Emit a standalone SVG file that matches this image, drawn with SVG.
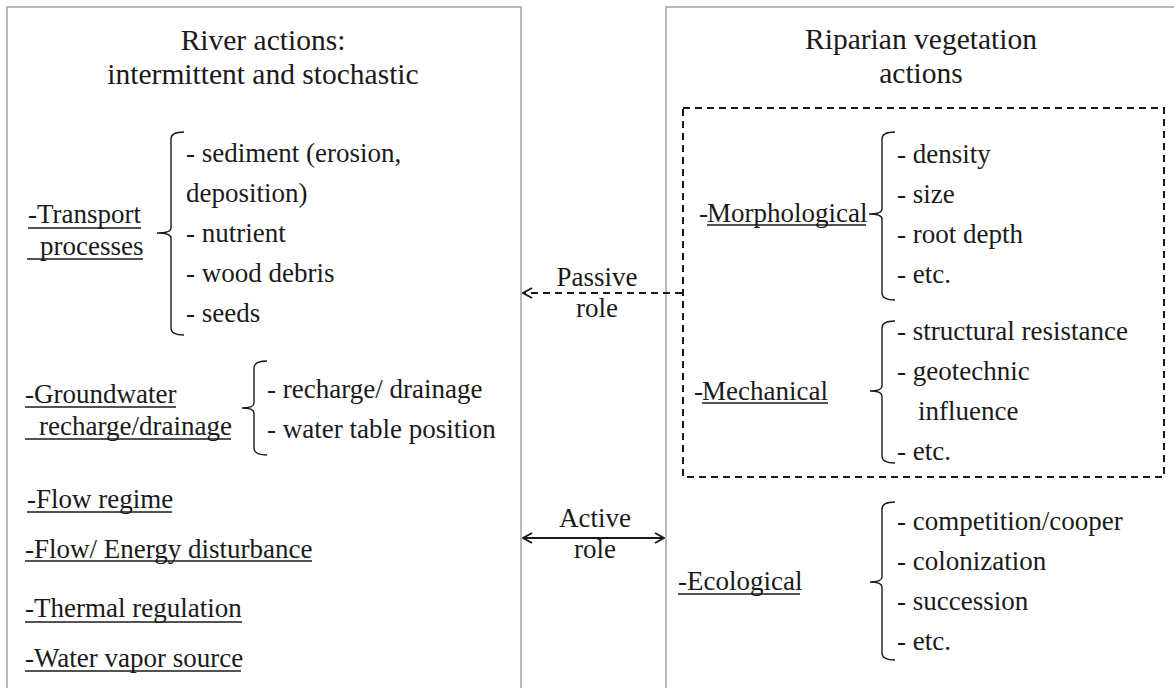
<svg xmlns="http://www.w3.org/2000/svg" width="1174" height="688" viewBox="0 0 1174 688">
<style>
  text { font-family: "Liberation Serif", "Times New Roman", serif; fill: #1a1a1a; }
  .title { font-size: 29.5px; text-anchor: middle; }
  .t { font-size: 27px; }
  .lbl { font-size: 27px; text-anchor: middle; }
  .box { fill: none; stroke: #a3a3a3; stroke-width: 1.5; }
  .dbox { fill: none; stroke: #1a1a1a; stroke-width: 2; stroke-dasharray: 7 5; }
  .ul { stroke: #1a1a1a; stroke-width: 1.5; }
  .brace { fill: none; stroke: #1a1a1a; stroke-width: 1.4; }
  .arr { fill: none; stroke: #1a1a1a; stroke-width: 2; }
  .dash { stroke-dasharray: 7 5; }
</style>
<defs>
  <marker id="chev" viewBox="0 0 12 12" refX="11" refY="6" markerWidth="12" markerHeight="12" markerUnits="userSpaceOnUse" orient="auto-start-reverse">
    <path d="M2,1 L11,6 L2,11" fill="none" stroke="#1a1a1a" stroke-width="2" stroke-dasharray="none"/>
  </marker>
</defs>

<g id="river-actions">
  <rect class="box" x="7" y="7" width="514" height="700"/>
  <text class="title" x="263" y="50">River actions:</text>
  <text class="title" x="263" y="84">intermittent and stochastic</text>

  <g id="transport">
    <text class="t" x="28" y="223">-Transport</text>
    <line class="ul" x1="28" y1="228" x2="141" y2="228"/>
    <text class="t" x="40" y="255">processes</text>
    <line class="ul" x1="27" y1="259" x2="143" y2="259"/>
    <path class="brace" d="M184,132 Q171,132 171,139 L171,228 Q171,233 157,233 Q171,233 171,238 L171,328 Q171,335 184,335"/>
    <text class="t" x="186" y="162">- sediment (erosion,</text>
    <text class="t" x="186" y="202">deposition)</text>
    <text class="t" x="186" y="242">- nutrient</text>
    <text class="t" x="186" y="282">- wood debris</text>
    <text class="t" x="186" y="322">- seeds</text>
  </g>

  <g id="groundwater">
    <text class="t" x="25" y="403">-Groundwater</text>
    <line class="ul" x1="25" y1="407" x2="176" y2="407"/>
    <text class="t" x="39" y="435">recharge/drainage</text>
    <line class="ul" x1="25" y1="439" x2="231" y2="439"/>
    <path class="brace" d="M267,361 Q254,361 254,368 L254,403 Q254,408 242,408 Q254,408 254,413 L254,448 Q254,455 267,455"/>
    <text class="t" x="267" y="398">- recharge/ drainage</text>
    <text class="t" x="267" y="438">- water table position</text>
  </g>

  <g id="flow-regime">
    <text class="t" x="27" y="508">-Flow regime</text>
    <line class="ul" x1="27" y1="512" x2="172" y2="512"/>
  </g>
  <g id="flow-energy">
    <text class="t" x="25" y="558">-Flow/ Energy disturbance</text>
    <line class="ul" x1="25" y1="561" x2="312" y2="561"/>
  </g>
  <g id="thermal">
    <text class="t" x="25" y="617">-Thermal regulation</text>
    <line class="ul" x1="25" y1="622" x2="242" y2="622"/>
  </g>
  <g id="vapor">
    <text class="t" x="25" y="667">-Water vapor source</text>
    <line class="ul" x1="25" y1="671" x2="241" y2="671"/>
  </g>
</g>

<g id="vegetation-actions">
  <rect class="box" x="666" y="7" width="520" height="700"/>
  <text class="title" x="921" y="49">Riparian vegetation</text>
  <text class="title" x="921" y="83">actions</text>

  <g id="passive-group">
    <rect class="dbox" x="683" y="108" width="481" height="369"/>

    <g id="morphological">
      <text class="t" x="699" y="222">-<tspan x="707">Morphological</tspan></text>
      <line class="ul" x1="707" y1="225" x2="866" y2="225"/>
      <path class="brace" d="M895,132 Q882,132 882,139 L882,209 Q882,214 869,214 Q882,214 882,219 L882,293 Q882,300 895,300"/>
      <text class="t" x="897" y="163">- density</text>
      <text class="t" x="897" y="203">- size</text>
      <text class="t" x="897" y="243">- root depth</text>
      <text class="t" x="897" y="283">- etc.</text>
    </g>

    <g id="mechanical">
      <text class="t" x="694" y="400">-<tspan x="702">Mechanical</tspan></text>
      <line class="ul" x1="702" y1="403" x2="828" y2="403"/>
      <path class="brace" d="M895,321 Q882,321 882,328 L882,386 Q882,391 870,391 Q882,391 882,396 L882,456 Q882,463 895,463"/>
      <text class="t" x="897" y="340">- structural resistance</text>
      <text class="t" x="897" y="380">- geotechnic</text>
      <text class="t" x="918" y="420">influence</text>
      <text class="t" x="897" y="460">- etc.</text>
    </g>
  </g>

  <g id="ecological">
    <text class="t" x="678" y="590">-Ecological</text>
    <line class="ul" x1="678" y1="594" x2="800" y2="594"/>
    <path class="brace" d="M895,502 Q882,502 882,509 L882,577 Q882,582 870,582 Q882,582 882,587 L882,653 Q882,660 895,660"/>
    <text class="t" x="897" y="530">- competition/cooper</text>
    <text class="t" x="897" y="570">- colonization</text>
    <text class="t" x="897" y="610">- succession</text>
    <text class="t" x="897" y="650">- etc.</text>
  </g>
</g>

<g id="connectors">
  <line class="arr dash" x1="682" y1="293" x2="523" y2="293" marker-end="url(#chev)"/>
  <text class="lbl" x="597" y="286">Passive</text>
  <text class="lbl" x="597" y="317">role</text>

  <line class="arr" x1="523" y1="538" x2="664" y2="538" marker-start="url(#chev)" marker-end="url(#chev)"/>
  <text class="lbl" x="595" y="527">Active</text>
  <text class="lbl" x="595" y="558">role</text>
</g>
</svg>
